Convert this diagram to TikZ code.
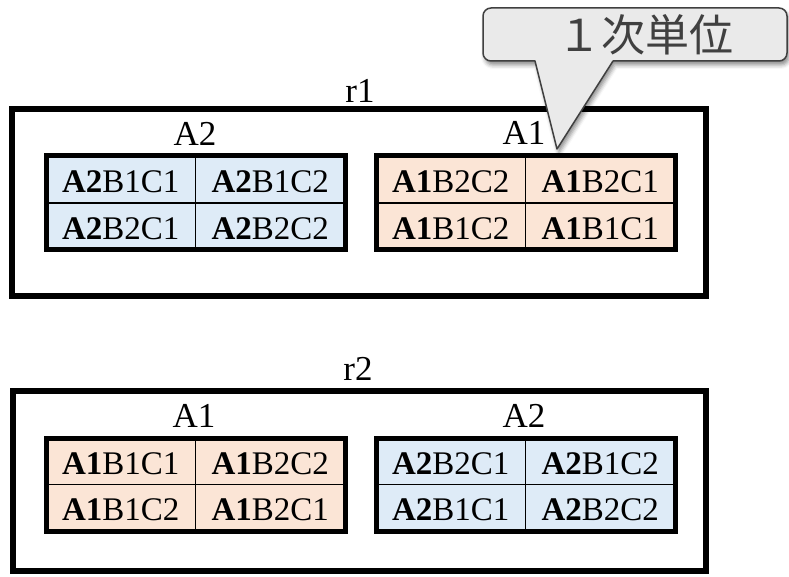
\documentclass[tikz,border=0pt]{standalone}
\usepackage{fontspec}
\setmainfont{Liberation Serif}
\newfontfamily\cjkfont{Noto Sans CJK JP}
\usetikzlibrary{shadows.blur}
\definecolor{cellblue}{HTML}{DEEBF7}
\definecolor{cellorange}{HTML}{FBE5D6}
\definecolor{calloutfill}{HTML}{EAEAEA}
\definecolor{calloutline}{HTML}{404040}
\begin{document}
\begin{tikzpicture}[x=1pt,y=-1pt,
  regionbox/.style={draw=black, line width=5.5pt, inner sep=0pt},
  tableframe/.style={draw=black, line width=5pt, minimum width=299pt, inner sep=0pt},
  cellbox/.style={draw=black, line width=1.8pt, minimum width=149.5pt, inner sep=0pt,
    text height=26pt, text depth=0pt, font=\fontsize{33}{36}\selectfont},
  bluecell/.style={cellbox, fill=cellblue},
  orangecell/.style={cellbox, fill=cellorange},
  labeltext/.style={anchor=base, inner sep=0pt, font=\fontsize{35}{40}\selectfont},
  calloutshape/.style={fill=calloutfill, draw=calloutline, line width=1.5pt, line join=round,
    blur shadow={shadow xshift=2pt, shadow yshift=-4pt, shadow blur radius=4pt, shadow opacity=45}}
]
\useasboundingbox (0,0) rectangle (789,577);

% region boxes
\node[regionbox, minimum width=694pt, minimum height=187pt] (r1box) at (359,202.5) {};
\node[regionbox, minimum width=693pt, minimum height=180pt] (r2box) at (359.5,481) {};

% region and group labels
\node[labeltext] (r1lab) at (360,103) {r1};
\node[labeltext] (r1a2lab) at (195,146) {A2};
\node[labeltext] (r1a1lab) at (524,145) {A1};
\node[labeltext] (r2lab) at (358,380) {r2};
\node[labeltext] (r2a1lab) at (194,427) {A1};
\node[labeltext] (r2a2lab) at (524,427) {A2};

% r1 left table (A2)
\node[bluecell, minimum height=47pt] (c111) at (120.75,179.5) {\textbf{A2}B1C1};
\node[bluecell, minimum height=47pt] (c112) at (270.25,179.5) {\textbf{A2}B1C2};
\node[bluecell, minimum height=47pt] (c113) at (120.75,226.5) {\textbf{A2}B2C1};
\node[bluecell, minimum height=47pt] (c114) at (270.25,226.5) {\textbf{A2}B2C2};
\node[tableframe, minimum height=94pt] (t11) at (195.5,203) {};

% r1 right table (A1)
\node[orangecell, minimum height=47pt] (c121) at (450.75,179.5) {\textbf{A1}B2C2};
\node[orangecell, minimum height=47pt] (c122) at (600.25,179.5) {\textbf{A1}B2C1};
\node[orangecell, minimum height=47pt] (c123) at (450.75,226.5) {\textbf{A1}B1C2};
\node[orangecell, minimum height=47pt] (c124) at (600.25,226.5) {\textbf{A1}B1C1};
\node[tableframe, minimum height=94pt] (t12) at (525.5,203) {};

% r2 left table (A1)
\node[orangecell, minimum height=46.5pt] (c211) at (120.75,461.25) {\textbf{A1}B1C1};
\node[orangecell, minimum height=46.5pt] (c212) at (270.25,461.25) {\textbf{A1}B2C2};
\node[orangecell, minimum height=46.5pt] (c213) at (120.75,507.75) {\textbf{A1}B1C2};
\node[orangecell, minimum height=46.5pt] (c214) at (270.25,507.75) {\textbf{A1}B2C1};
\node[tableframe, minimum height=93pt] (t21) at (195.5,484.5) {};

% r2 right table (A2)
\node[bluecell, minimum height=46.5pt] (c221) at (450.75,461.25) {\textbf{A2}B2C1};
\node[bluecell, minimum height=46.5pt] (c222) at (600.25,461.25) {\textbf{A2}B1C2};
\node[bluecell, minimum height=46.5pt] (c223) at (450.75,507.75) {\textbf{A2}B1C1};
\node[bluecell, minimum height=46.5pt] (c224) at (600.25,507.75) {\textbf{A2}B2C2};
\node[tableframe, minimum height=93pt] (t22) at (525.5,484.5) {};

% callout
\coordinate (tip) at (557,149);
\path[calloutshape] (535,61) [rounded corners=8pt] -- (483,61) -- (483,8) -- (787,8) -- (787,61) [sharp corners] -- (613,61) -- (tip) -- cycle;
\node[anchor=base, inner sep=0pt, text=calloutline, font=\cjkfont\fontsize{44}{48}\selectfont] (callouttext) at (645,52) {１次単位};
\end{tikzpicture}
\end{document}
